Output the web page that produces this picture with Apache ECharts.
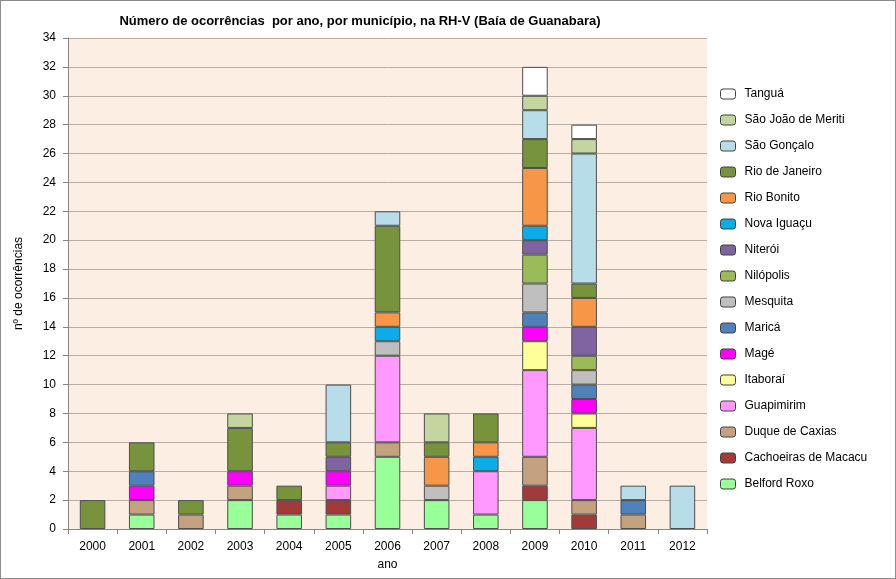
<!DOCTYPE html>
<html><head><meta charset="utf-8">
<script src="https://cdn.jsdelivr.net/npm/echarts@6/dist/echarts.min.js"></script>
<style>html,body{margin:0;padding:0;background:#fff}#c{width:896px;height:579px;box-sizing:border-box;border:1px solid #8c8c8c}</style>
</head><body><div id="c"></div>
<script>
const years = ['2000','2001','2002','2003','2004','2005','2006','2007','2008','2009','2010','2011','2012'];
const belfordRoxo      = [0,1,0,2,1,1,5,2,1,2,0,0,0];
const cachoeiras       = [0,0,0,0,1,1,0,0,0,1,1,0,0];
const duqueCaxias      = [0,1,1,1,0,0,1,0,0,2,1,1,0];
const guapimirim       = [0,0,0,0,0,1,6,0,3,6,5,0,0];
const itaborai         = [0,0,0,0,0,0,0,0,0,2,1,0,0];
const mage             = [0,1,0,1,0,1,0,0,0,1,1,0,0];
const marica           = [0,1,0,0,0,0,0,0,0,1,1,1,0];
const mesquita         = [0,0,0,0,0,0,1,1,0,2,1,0,0];
const nilopolis        = [0,0,0,0,0,0,0,0,0,2,1,0,0];
const niteroi          = [0,0,0,0,0,1,0,0,0,1,2,0,0];
const novaIguacu       = [0,0,0,0,0,0,1,0,1,1,0,0,0];
const rioBonito        = [0,0,0,0,0,0,1,2,1,4,2,0,0];
const rioJaneiro       = [2,2,1,3,1,1,6,1,2,2,1,0,0];
const saoGoncalo       = [0,0,0,0,0,4,1,0,0,2,9,1,3];
const saoJoaoMeriti    = [0,0,0,1,0,0,0,2,0,1,1,0,0];
const tangua           = [0,0,0,0,0,0,0,0,0,2,1,0,0];
const yTicks = [0,2,4,6,8,10,12,14,16,18,20,22,24,26,28,30,32,34];

const seriesDefs = [
  ['Belford Roxo', belfordRoxo, '#99FF99'],
  ['Cachoeiras de Macacu', cachoeiras, '#A33A3A'],
  ['Duque de Caxias', duqueCaxias, '#C4A27F'],
  ['Guapimirim', guapimirim, '#FF99FF'],
  ['Itaboraí', itaborai, '#FFFF99'],
  ['Magé', mage, '#FF00FF'],
  ['Maricá', marica, '#4F81BD'],
  ['Mesquita', mesquita, '#BFBFBF'],
  ['Nilópolis', nilopolis, '#9BBB59'],
  ['Niterói', niteroi, '#8064A2'],
  ['Nova Iguaçu', novaIguacu, '#0AADE8'],
  ['Rio Bonito', rioBonito, '#F79646'],
  ['Rio de Janeiro', rioJaneiro, '#77933C'],
  ['São Gonçalo', saoGoncalo, '#B7DEE8'],
  ['São João de Meriti', saoJoaoMeriti, '#C4D6A0'],
  ['Tanguá', tangua, '#FFFFFF']
];

const FONT = 'Liberation Sans, Arial, sans-serif';
const chart = echarts.init(document.getElementById('c'), null, {renderer:'canvas'});
chart.setOption({
  animation:false,
  backgroundColor:'#ffffff',
  title:{text:'Número de ocorrências  por ano, por município, na RH-V (Baía de Guanabara)', left:354, top:9, textAlign:'center',
    textStyle:{fontFamily:FONT, fontSize:13, fontWeight:'bold', color:'#000'}},
  legend:{orient:'vertical', left:714, top:82, itemWidth:15, itemHeight:10, itemGap:14,
    data:seriesDefs.map(s=>s[0]).reverse(),
    textStyle:{fontFamily:FONT, fontSize:12, color:'#000', padding:[0,0,0,4]},
    itemStyle:{borderColor:'#404040', borderWidth:1}},
  grid:{left:67, right:188, top:37, bottom:49, show:true, backgroundColor:'#FDEEE3', borderWidth:0},
  xAxis:{type:'category', data:years, name:'ano', nameLocation:'middle', nameGap:30,
    nameTextStyle:{fontFamily:FONT, fontSize:12, color:'#000'},
    axisLine:{lineStyle:{color:'#868686'}}, axisTick:{show:true, alignWithLabel:false, length:5, lineStyle:{color:'#868686'}},
    axisLabel:{fontFamily:FONT, fontSize:12, color:'#000', margin:12}},
  yAxis:{type:'value', min:0, max:34, interval:2, name:'nº de ocorrências', nameLocation:'middle', nameGap:43, nameRotate:90,
    nameTextStyle:{fontFamily:FONT, fontSize:12, color:'#000'},
    axisLine:{show:true, lineStyle:{color:'#868686'}}, axisTick:{show:true, length:5, lineStyle:{color:'#868686'}},
    axisLabel:{fontFamily:FONT, fontSize:12, color:'#000', margin:12},
    splitLine:{lineStyle:{color:'#B8ADA5', width:1}}},
  series:seriesDefs.map(s=>({name:s[0], type:'bar', stack:'t', barWidth:'52%',
    data:s[1].map(v=>v===0?null:v),
    itemStyle:{color:s[2], borderColor:'#4d4d4d', borderWidth:1}}))
});
</script></body></html>
